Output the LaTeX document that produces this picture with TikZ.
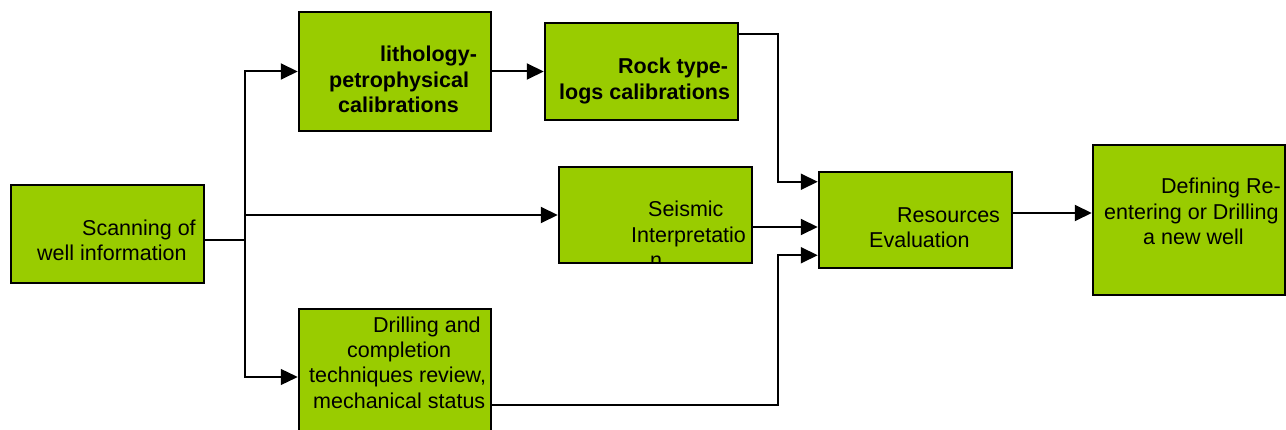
\documentclass[tikz,border=0pt]{standalone}
\usepackage{fontspec}
\setmainfont{Liberation Sans}
\usetikzlibrary{arrows.meta,calc}
\definecolor{boxgreen}{HTML}{99CC00}
\begin{document}
\begin{tikzpicture}[x=1pt,y=-1pt,
  box/.style={draw=black,line width=2.5pt,fill=boxgreen,inner sep=0pt,rectangle},
  txt/.style={anchor=base west,inner sep=0pt,align=left,font={\fontsize{21.5}{25.5}\selectfont}},
  btxt/.style={txt,font={\fontsize{21.5}{25.5}\selectfont\bfseries}},
  conn/.style={line width=2pt,-{Triangle[length=17pt,width=16pt]}},
  thinconn/.style={line width=1.3pt,-{Triangle[length=17pt,width=16pt]}}]
\useasboundingbox (0,0) rectangle (1286,430);
\clip (0,0) rectangle (1286,430);

% boxes
\node[box,minimum width=193pt,minimum height=98pt]  (scan)  at (107.5,234) {};
\node[box,minimum width=192pt,minimum height=119pt] (litho) at (395,71.5) {};
\node[box,minimum width=193pt,minimum height=97pt]  (rock)  at (641.5,71.5) {};
\node[box,minimum width=193pt,minimum height=96pt]  (seis)  at (655.5,215) {};
\node[box,minimum width=193pt,minimum height=96pt]  (res)   at (915.5,220) {};
\node[box,minimum width=192pt,minimum height=136pt] (drill) at (395,377) {};
\node[box,minimum width=192pt,minimum height=150pt] (def)   at (1189,220) {};

% texts (anchor = baseline of the last line)
\node[txt] (tscan) at (37,261) {\hspace*{45pt}Scanning of\\well information};
\node[btxt] (tlitho) at (329,113) {\hspace*{51pt}lithology-\\petrophysical\\\hspace*{9pt}calibrations};
\node[btxt] (trock) at (559,99.5) {\hspace*{59pt}Rock type-\\logs calibrations};
\begin{scope}
  \clip ($(seis.north west)+(1.25,1.25)$) rectangle ($(seis.south east)+(-1.25,-1.25)$);
  \node[txt] (tseis) at (631,268) {\hspace*{17pt}Seismic\\Interpretatio\\\hspace*{19pt}n};
\end{scope}
\node[txt] (tres) at (869,248) {\hspace*{28pt}Resources\\Evaluation};
\node[txt] (tdrill) at (309,408.5) {\hspace*{64pt}Drilling and\\\hspace*{38pt}completion\\techniques review,\\\hspace*{4pt}mechanical status};
\node[txt] (tdef) at (1104,245) {\hspace*{57pt}Defining Re-\\entering or Drilling\\\hspace*{39pt}a new well};

% connectors
\coordinate (br) at (245,240);
\draw[line width=1.3pt] ($(scan.east)+(0,6)$) -- (br);
\draw[conn] (br) |- (litho.west);
\draw[thinconn] (br) |- (drill.west);
\draw[conn] (br |- seis.west) -- (seis.west);
\draw[conn] (litho.east) -- (rock.west);
\draw[conn] ($(rock.north east)+(0,12)$) -| ($(res.north west)+(-40,0)$) |- ($(res.north west)+(0,11)$);
\coordinate (s1) at ($(seis.east)+(0,12)$);
\draw[conn] (s1) -- (s1 -| res.west);
\coordinate (d1) at ($(drill.east)+(0,28)$);
\draw[conn] (d1) -| ($(res.south west)+(-40,0)$) |- ($(res.south west)+(0,-14)$);
\coordinate (r1) at ($(res.east)+(0,-7)$);
\draw[conn] (r1) -- (r1 -| def.west);
\end{tikzpicture}
\end{document}
